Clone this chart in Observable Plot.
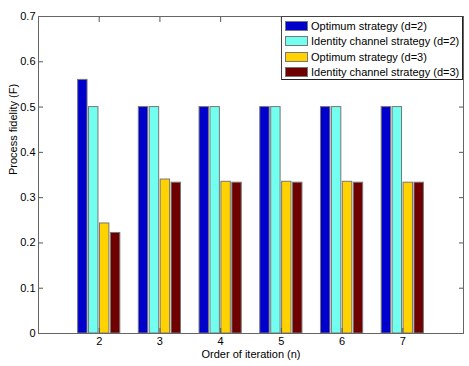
<!DOCTYPE html>
<html><head><meta charset="utf-8">
<script src="https://cdn.jsdelivr.net/npm/d3@7"></script>
<script src="https://cdn.jsdelivr.net/npm/@observablehq/plot@0.6"></script>
<style>
body{margin:0;background:#fff;font-family:"Liberation Sans",Arial,Helvetica,sans-serif;}
#wrap{position:relative;width:469px;height:366px;}
#legend{position:absolute;left:281px;top:16px;width:182px;height:64px;border:1px solid #444;border-right-color:#222;border-bottom:1.5px solid #222;background:#fff;font-size:11px;box-sizing:border-box;color:#000;}
.row{position:absolute;left:3px;height:15px;display:flex;align-items:center;white-space:nowrap;}
.sw{width:21px;height:8px;border:1px solid #777;margin-right:3px;}
</style></head><body><div id="wrap"></div>
<script>
const orders = [2, 3, 4, 5, 6, 7];
const seriesNames = ["Optimum strategy (d=2)", "Identity channel strategy (d=2)", "Optimum strategy (d=3)", "Identity channel strategy (d=3)"];
const optD2 = [0.56, 0.5, 0.5, 0.5, 0.5, 0.5];
const idD2 = [0.5, 0.5, 0.5, 0.5, 0.5, 0.5];
const optD3 = [0.243, 0.340, 0.335, 0.335, 0.335, 0.333];
const idD3 = [0.222, 0.333, 0.333, 0.333, 0.333, 0.333];
const yTicks = [0, 0.1, 0.2, 0.3, 0.4, 0.5, 0.6, 0.7];
const colors = ["#0000cd", "#73ffef", "#ffd200", "#6e0000"];
const xLabel = "Order of iteration (n)";
const yLabel = "Process fidelity (F)";

const offsets = [-0.27, -0.09, 0.09, 0.27];
const barW = 0.155;
const rows = [];
[optD2, idD2, optD3, idD3].forEach((vals, s) =>
  orders.forEach((n, i) => rows.push({n, s, v: vals[i], name: seriesNames[s]})));

const font = '"Liberation Sans", Arial, Helvetica, sans-serif';
const plot = Plot.plot({
  width: 469, height: 366,
  marginLeft: 38, marginRight: 6, marginTop: 16, marginBottom: 33,
  style: {fontFamily: font, fontSize: "11px", color: "#000", background: "#fff"},
  x: {type: "linear", domain: [1, 8]},
  y: {domain: [0, 0.7]},
  color: {domain: seriesNames, range: colors},
  marks: [
    Plot.rectY(rows, {
      x1: d => d.n + offsets[d.s] - barW / 2,
      x2: d => d.n + offsets[d.s] + barW / 2,
      y1: 0, y2: "v", fill: "name", stroke: "#777", strokeWidth: 1
    }),
    Plot.axisY({ticks: yTicks, tickSize: 0, tickPadding: 3, tickFormat: d => String(d), label: null}),
    Plot.axisY({ticks: yTicks, anchor: "left", tickSize: 5, dx: 5, fill: "none", stroke: "#555", label: null}),
    Plot.axisY({ticks: yTicks, anchor: "right", tickSize: 5, dx: -5, fill: "none", stroke: "#555", label: null}),
    Plot.axisX({ticks: orders, anchor: "bottom", tickSize: 0, tickPadding: 4, tickFormat: d => String(d), label: null}),
    Plot.axisX({ticks: orders, anchor: "bottom", tickSize: 5, dy: -5, fill: "none", stroke: "#555", label: null}),
    Plot.axisX({ticks: orders, anchor: "top", tickSize: 5, dy: 5, fill: "none", stroke: "#555", label: null}),
    Plot.frame({stroke: "#666"}),
    Plot.text([xLabel], {text: d => d, frameAnchor: "bottom", lineAnchor: "bottom", dy: 24, fill: "#000"}),
    Plot.text([yLabel], {text: d => d, frameAnchor: "left", lineAnchor: "bottom", rotate: -90, dx: -22, fill: "#000"})
  ]
});
const wrap = document.getElementById("wrap");
wrap.appendChild(plot);
const leg = document.createElement("div");
leg.id = "legend";
seriesNames.forEach((name, i) => {
  const r = document.createElement("div");
  r.className = "row";
  r.style.top = (1.5 + i * 15.3) + "px";
  const sw = document.createElement("div");
  sw.className = "sw";
  sw.style.background = colors[i];
  const t = document.createElement("span");
  t.textContent = name;
  r.appendChild(sw); r.appendChild(t);
  leg.appendChild(r);
});
wrap.appendChild(leg);
</script></body></html>
